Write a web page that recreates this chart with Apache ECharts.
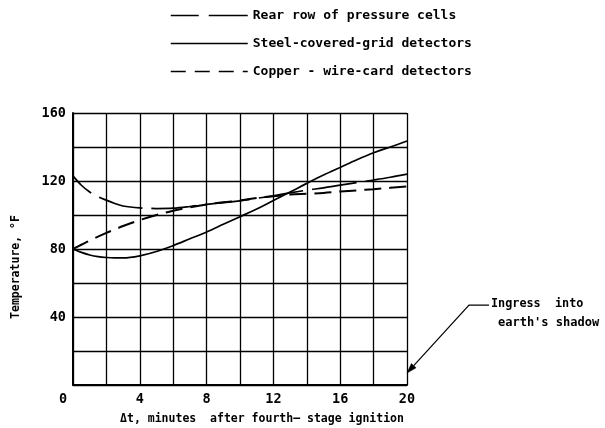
<!DOCTYPE html>
<html>
<head>
<meta charset="utf-8">
<script src="https://cdn.jsdelivr.net/npm/echarts@6/dist/echarts.min.js"></script>
<style>
  html, body { margin: 0; padding: 0; background: #fff; }
  #chart { width: 605px; height: 428px; }
</style>
</head>
<body>
<div id="chart"></div>
<script>
// Minutes after fourth-stage ignition
const minutes = [0, 0.5, 1, 1.5, 2, 2.5, 3, 4, 5, 6, 7, 8, 9, 10, 11, 12, 13, 14, 15, 16, 17, 18, 19, 20];
// Temperature, deg F
const rearRowCells = [123, 117.5, 113.5, 110.8, 108.7, 106.8, 105.3, 104.2, 103.8, 104, 105, 106.3, 107.3, 108.3, 109.8, 111.3, 113, 114.6, 116, 117.6, 119.1, 120.6, 122.2, 124];
const steelGrid = [80, 78, 76.5, 75.5, 75, 74.8, 74.8, 76, 78.5, 82, 86, 90, 94.5, 99, 103.5, 108.5, 113.5, 118.6, 123.5, 128, 132.5, 136.6, 140, 143.5];
const copperWireCard = [80, 82.5, 85, 87.3, 89.5, 91.5, 93.5, 97, 100, 102.5, 104.5, 106.2, 107.5, 108.6, 110, 111, 112, 112.5, 113, 113.8, 114.5, 115.2, 116, 116.8];

const seriesNames = ['Rear row of pressure cells', 'Steel-covered-grid detectors', 'Copper - wire-card detectors'];
const xTickLabels = ['0', '4', '8', '12', '16', '20'];
const yTickLabels = ['40', '80', '120', '160'];
const xTitle = '\u0394t, minutes  after fourth\u2013 stage ignition';
const yTitle = 'Temperature, \u00B0F';
const noteLines = ['Ingress  into', "earth's shadow"];
const notePoint = [20, 7];

const FONT = 'DejaVu Sans Mono';
const INK = '#000';

const rearDash = [45, 9];
const copperDash = [17, 8];

function pairs(vals) { return minutes.map((m, i) => [m, vals[i]]); }

const chart = echarts.init(document.getElementById('chart'), null, { renderer: 'canvas' });

const option = {
  backgroundColor: '#fff',
  animation: false,
  color: [INK, INK, INK],
  grid: { left: 73, top: 113, width: 334, height: 272, containLabel: false },
  legend: {
    orient: 'vertical',
    left: 165,
    top: 4,
    itemGap: 15,
    itemWidth: 77,
    itemHeight: 14,
    itemStyle: { opacity: 0 },
    textStyle: { fontFamily: FONT, fontSize: 13, fontWeight: 'bold', color: INK },
    data: [
      { name: seriesNames[0], lineStyle: { color: INK, width: 1.5, type: [28, 10, 45, 0], dashOffset: 0 } },
      { name: seriesNames[1], lineStyle: { color: INK, width: 1.5, type: 'solid', dashOffset: 0 } },
      { name: seriesNames[2], lineStyle: { color: INK, width: 1.5, type: [15, 9], dashOffset: 0 } }
    ]
  },
  xAxis: {
    type: 'value', min: 0, max: 20, interval: 4,
    axisLine: { show: true, lineStyle: { color: INK, width: 2 } },
    axisTick: { show: false },
    splitLine: { show: true, lineStyle: { color: INK, width: 1.3 } },
    minorTick: { show: false, splitNumber: 2 },
    minorSplitLine: { show: true, lineStyle: { color: INK, width: 1.3 } },
    axisLabel: {
      fontFamily: FONT, fontSize: 13.5, fontWeight: 'bold', color: INK, margin: 7,
      formatter: v => {
        const s = String(v);
        if (s === xTickLabels[0]) return '{z|' + s + '}';
        return xTickLabels.includes(s) ? s : '';
      },
      rich: { z: { fontFamily: FONT, fontSize: 13.5, fontWeight: 'bold', color: INK, padding: [0, 20, 0, 0] } }
    }
  },
  yAxis: {
    type: 'value', min: 0, max: 160, interval: 40,
    axisLine: { show: true, lineStyle: { color: INK, width: 2 } },
    axisTick: { show: false },
    splitLine: { show: true, lineStyle: { color: INK, width: 1.3 } },
    minorTick: { show: false, splitNumber: 2 },
    minorSplitLine: { show: true, lineStyle: { color: INK, width: 1.3 } },
    axisLabel: {
      fontFamily: FONT, fontSize: 13.5, fontWeight: 'bold', color: INK, margin: 7,
      formatter: v => (yTickLabels.includes(String(v)) ? String(v) : '')
    }
  },
  series: [
    {
      name: seriesNames[0], type: 'line', data: pairs(rearRowCells),
      smooth: 0.35, symbol: 'none', z: 3,
      lineStyle: { color: INK, width: 1.7, type: rearDash, dashOffset: 20 }
    },
    {
      name: seriesNames[1], type: 'line', data: pairs(steelGrid),
      smooth: 0.35, symbol: 'none', z: 3,
      lineStyle: { color: INK, width: 1.7, type: 'solid' }
    },
    {
      name: seriesNames[2], type: 'line', data: pairs(copperWireCard),
      smooth: 0.35, symbol: 'none', z: 3,
      lineStyle: { color: INK, width: 2, type: copperDash }
    }
  ]
};

chart.setOption(option);

// Axis titles and the shadow-ingress note with its leader arrow
const tip = chart.convertToPixel({ gridIndex: 0 }, notePoint);
const corner = [tip[0] + 62, tip[1] - 68];
const elbow = [tip[0] + 82, tip[1] - 68];
const ang = Math.atan2(corner[1] - tip[1], corner[0] - tip[0]);
const hl = 10, hw = 3.2;
const base = [tip[0] + hl * Math.cos(ang), tip[1] + hl * Math.sin(ang)];
const head = [
  tip,
  [base[0] + hw * Math.sin(ang), base[1] - hw * Math.cos(ang)],
  [base[0] - hw * Math.sin(ang), base[1] + hw * Math.cos(ang)]
];

chart.setOption({
  graphic: [
    {
      type: 'text', x: 262, y: 419,
      style: { text: xTitle, fontFamily: FONT, fontSize: 11.5, fontWeight: 'bold', fill: INK, align: 'center', verticalAlign: 'middle' }
    },
    {
      type: 'text', x: 16, y: 267, rotation: Math.PI / 2,
      style: { text: yTitle, fontFamily: FONT, fontSize: 11.5, fontWeight: 'bold', fill: INK, align: 'center', verticalAlign: 'middle' }
    },
    {
      type: 'polyline',
      shape: { points: [base, corner, elbow] },
      style: { stroke: INK, lineWidth: 1.2, fill: null }
    },
    {
      type: 'polygon',
      shape: { points: head },
      style: { fill: INK, stroke: INK, lineWidth: 0.5 }
    },
    {
      type: 'text', x: elbow[0] + 2, y: elbow[1] - 1,
      style: { text: noteLines[0], fontFamily: FONT, fontSize: 11.8, fontWeight: 'bold', fill: INK, align: 'left', verticalAlign: 'middle' }
    },
    {
      type: 'text', x: elbow[0] + 9, y: elbow[1] + 18,
      style: { text: noteLines[1], fontFamily: FONT, fontSize: 12, fontWeight: 'bold', fill: INK, align: 'left', verticalAlign: 'middle' }
    }
  ]
});
</script>
</body>
</html>
